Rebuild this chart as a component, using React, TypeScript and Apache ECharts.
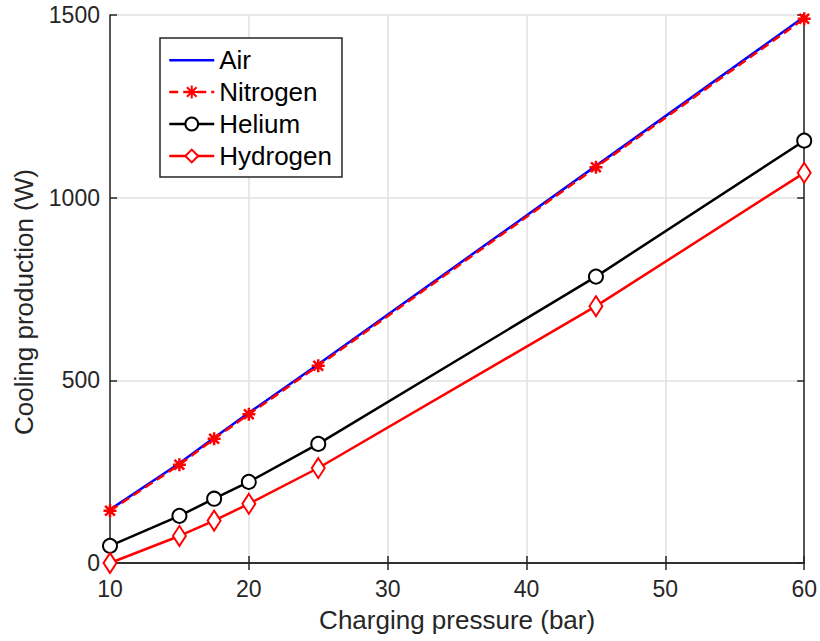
import React, { useEffect, useRef } from "react";
import * as echarts from "echarts";

const pressures = [10, 15, 17.5, 20, 25, 45, 60];
const air = [146, 273, 343, 411, 544, 1087, 1495];
const nitrogen = [143, 269, 340, 407, 540, 1083, 1490];
const helium = [47, 129, 176, 222, 326, 784, 1156];
const hydrogen = [0, 74, 116, 162, 260, 703, 1068];
const xTicks = [10, 20, 30, 40, 50, 60];
const yTicks = [0, 500, 1000, 1500];
const xTitle = "Charging pressure (bar)";
const yTitle = "Cooling production (W)";
const seriesNames = ["Air", "Nitrogen", "Helium", "Hydrogen"];

const FONT = "'Liberation Sans', Arial, Helvetica, sans-serif";
const AX = "#262626";
const ASTERISK = "path://M0,-10L0,10M-10,0L10,0M-7.5,-7.5L7.5,7.5M-7.5,7.5L7.5,-7.5";
const AIR_ICON = "path://M0,0M0,7L45,7L45,9.5L0,9.5ZM45,16";

function pairs(ys: number[]) {
  return pressures.map((x, i) => [x, ys[i]]);
}

export default function App() {
  const ref = useRef<HTMLDivElement>(null);
  useEffect(() => {
    if (!ref.current) return;
    const chart = echarts.init(ref.current, undefined, { renderer: "svg" });
    const baseX = {
      type: "value" as const,
      min: xTicks[0],
      max: xTicks[xTicks.length - 1],
      interval: 10,
    };
    const baseY = {
      type: "value" as const,
      min: yTicks[0],
      max: yTicks[yTicks.length - 1],
      interval: 500,
    };
    chart.setOption({
      animation: false,
      backgroundColor: "#ffffff",
      textStyle: { fontFamily: FONT },
      grid: { left: 110, right: 14, top: 15, bottom: 78, containLabel: false },
      xAxis: [
        {
          ...baseX,
          position: "bottom",
          name: xTitle,
          nameLocation: "middle",
          nameGap: 44,
          nameTextStyle: { fontSize: 26, color: AX, fontFamily: FONT },
          axisLine: { show: true, lineStyle: { color: AX, width: 1.5 } },
          axisTick: { show: true, inside: true, length: 7, lineStyle: { color: AX, width: 1.5 } },
          axisLabel: { fontSize: 23, color: AX, margin: 14, fontFamily: FONT },
          splitLine: { show: true, lineStyle: { color: "#e0e0e0", width: 1.5 } },
        },
        {
          ...baseX,
          position: "top",
          axisLine: { show: true, lineStyle: { color: AX, width: 1.5 } },
          axisTick: { show: true, inside: true, length: 7, lineStyle: { color: AX, width: 1.5 } },
          axisLabel: { show: false },
          splitLine: { show: false },
        },
      ],
      yAxis: [
        {
          ...baseY,
          position: "left",
          axisLine: { show: true, lineStyle: { color: AX, width: 1.5 } },
          axisTick: { show: true, inside: true, length: 7, lineStyle: { color: AX, width: 1.5 } },
          axisLabel: {
            fontSize: 23,
            color: AX,
            margin: 10,
            fontFamily: FONT,
            formatter: (v: number) => String(v),
          },
          splitLine: { show: true, lineStyle: { color: "#e0e0e0", width: 1.5 } },
        },
        {
          ...baseY,
          position: "right",
          axisLine: { show: true, lineStyle: { color: AX, width: 1.5 } },
          axisTick: { show: true, inside: true, length: 7, lineStyle: { color: AX, width: 1.5 } },
          axisLabel: { show: false },
          splitLine: { show: false },
        },
      ],
      graphic: [
        {
          type: "text",
          x: 24,
          y: 302,
          rotation: Math.PI / 2,
          style: {
            text: yTitle,
            fontSize: 26,
            fontFamily: FONT,
            fill: AX,
            align: "center",
            verticalAlign: "middle",
          },
        },
      ],
      legend: {
        orient: "vertical",
        left: 160,
        top: 38,
        padding: [9, 10, 8, 8],
        itemWidth: 45,
        itemHeight: 16,
        itemGap: 6,
        borderColor: AX,
        borderWidth: 1.5,
        backgroundColor: "#ffffff",
        lineStyle: { width: 2.5 },
        textStyle: { fontSize: 26, color: "#000000", fontFamily: FONT, lineHeight: 26 },
        data: [
          { name: seriesNames[0], icon: AIR_ICON, itemStyle: { color: "#0000ff" } },
          seriesNames[1],
          seriesNames[2],
          seriesNames[3],
        ],
      },
      series: [
        {
          name: seriesNames[0],
          type: "line",
          data: pairs(air),
          symbol: "none",
          lineStyle: { color: "#0000ff", width: 2.5 },
          itemStyle: { color: "#0000ff" },
          z: 2,
        },
        {
          name: seriesNames[1],
          type: "line",
          data: pairs(nitrogen),
          symbol: ASTERISK,
          symbolSize: 13,
          showAllSymbol: true,
          lineStyle: { color: "#ff0000", width: 2.5, type: [9, 5] },
          itemStyle: { color: "#ff0000", borderColor: "#ff0000", borderWidth: 2.5 },
          z: 3,
        },
        {
          name: seriesNames[2],
          type: "line",
          data: pairs(helium),
          symbol: "emptyCircle",
          symbolSize: 14,
          showAllSymbol: true,
          lineStyle: { color: "#000000", width: 2.5 },
          itemStyle: { color: "#000000", borderWidth: 2.5 },
          z: 4,
        },
        {
          name: seriesNames[3],
          type: "line",
          data: pairs(hydrogen),
          symbol: "emptyDiamond",
          symbolSize: [13, 20],
          showAllSymbol: true,
          lineStyle: { color: "#ff0000", width: 2.5 },
          itemStyle: { color: "#ff0000", borderWidth: 2.5 },
          z: 5,
        },
      ],
    });
    return () => chart.dispose();
  }, []);
  return <div ref={ref} style={{ width: 820, height: 641, position: "absolute", left: 0, top: 0 }} />;
}
